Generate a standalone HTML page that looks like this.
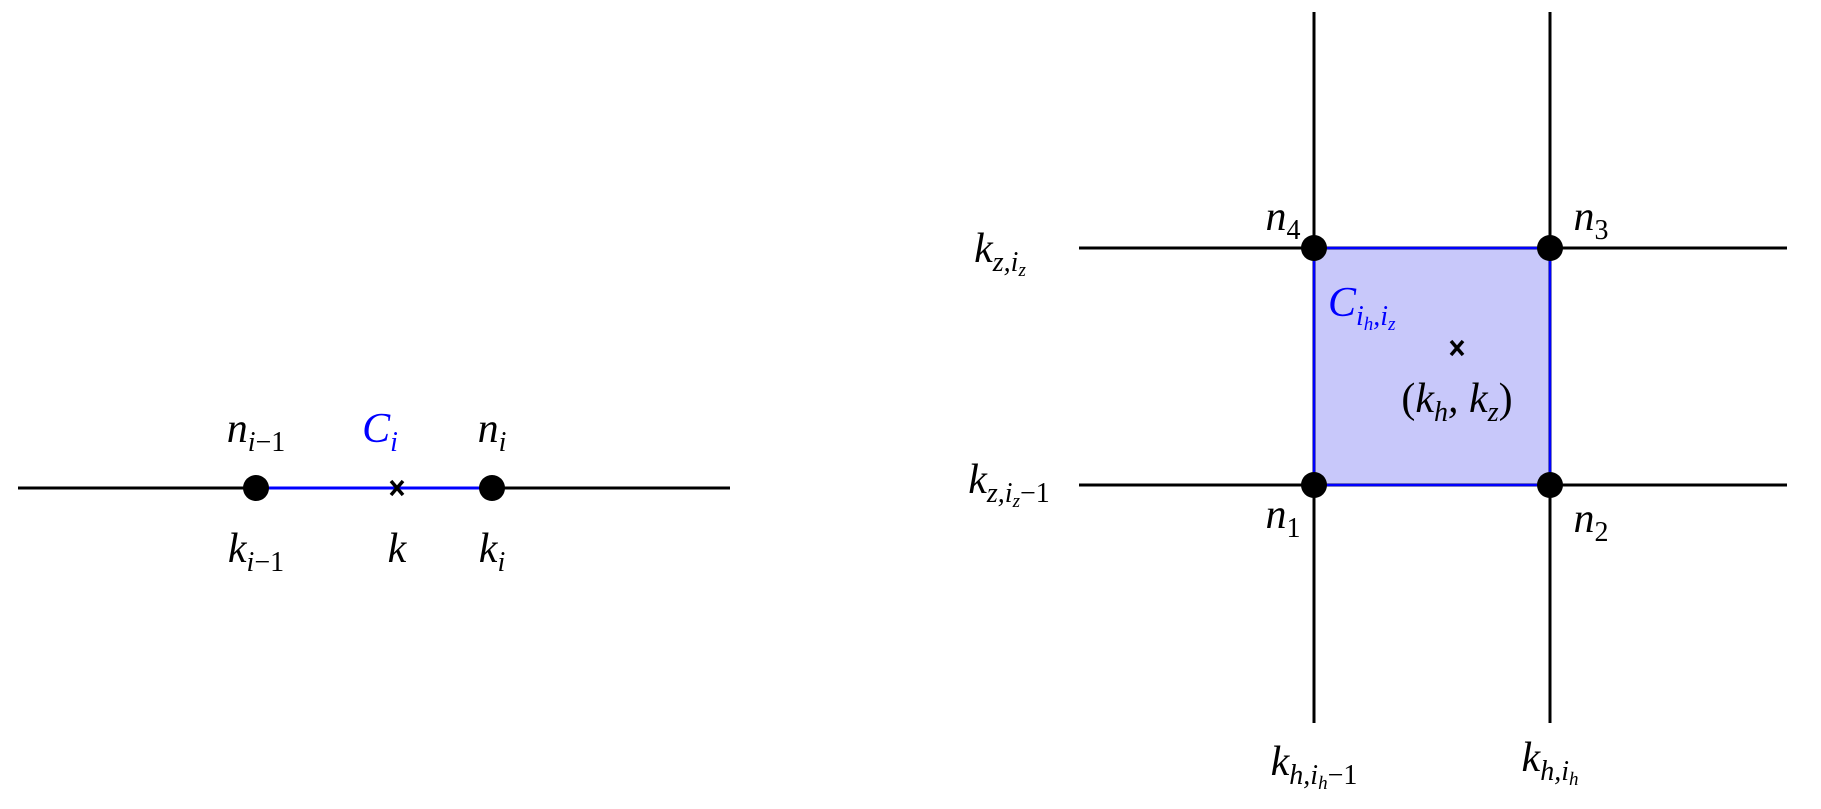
<!DOCTYPE html>
<html><head><meta charset="utf-8"><style>
html,body{margin:0;padding:0;background:#fff;}
svg{display:block;}
text{font-family:"Liberation Serif",serif;font-style:italic;font-size:42px;fill:#000;}
.s{font-size:28px;}
.u{font-style:normal;}
</style></head><body>
<svg width="1821" height="809" viewBox="0 0 1821 809" xmlns="http://www.w3.org/2000/svg">
<!-- Left diagram -->
<line x1="18" y1="488" x2="730" y2="488" stroke="#000" stroke-width="3"/>
<line x1="256" y1="488" x2="492" y2="488" stroke="#0000ff" stroke-width="3"/>
<circle cx="256" cy="488" r="13"/>
<circle cx="492" cy="488" r="13"/>
<path d="M391 481 L403 495 M403 481 L391 495" stroke="#000" stroke-width="3.5"/>
<text x="256" y="442" text-anchor="middle">n<tspan class="s" dy="9">i</tspan><tspan class="s u">−1</tspan></text>
<text x="380" y="442" text-anchor="middle" style="fill:#0000ff">C<tspan class="s" dy="9" style="fill:#0000ff">i</tspan></text>
<text x="492" y="442" text-anchor="middle">n<tspan class="s" dy="9">i</tspan></text>
<text x="256" y="562" text-anchor="middle">k<tspan class="s" dy="9">i</tspan><tspan class="s u">−1</tspan></text>
<text x="397" y="562" text-anchor="middle">k</text>
<text x="492" y="562" text-anchor="middle">k<tspan class="s" dy="9">i</tspan></text>
<!-- Right diagram -->
<rect x="1314" y="248" width="236" height="237" fill="#c8c8fa"/>
<line x1="1314" y1="12" x2="1314" y2="723" stroke="#000" stroke-width="3"/>
<line x1="1550" y1="12" x2="1550" y2="723" stroke="#000" stroke-width="3"/>
<line x1="1079" y1="248" x2="1787" y2="248" stroke="#000" stroke-width="3"/>
<line x1="1079" y1="485" x2="1787" y2="485" stroke="#000" stroke-width="3"/>
<rect x="1314" y="248" width="236" height="237" fill="none" stroke="#0000ff" stroke-width="2.5"/>
<circle cx="1314" cy="248" r="13"/>
<circle cx="1550" cy="248" r="13"/>
<circle cx="1314" cy="485" r="13"/>
<circle cx="1550" cy="485" r="13"/>
<path d="M1451 341 L1463 355 M1463 341 L1451 355" stroke="#000" stroke-width="3.5"/>
<text x="1328" y="316" style="fill:#0000ff">C<tspan class="s" dy="9" style="fill:#0000ff">i</tspan><tspan class="s" dy="5" style="fill:#0000ff;font-size:19px">h</tspan><tspan class="s" dy="-5" style="fill:#0000ff">,i</tspan><tspan class="s" dy="5" style="fill:#0000ff;font-size:19px">z</tspan></text>
<text x="1457" y="412" text-anchor="middle"><tspan class="u">(</tspan>k<tspan class="s" dy="9">h</tspan><tspan dy="-9">, k</tspan><tspan class="s" dy="9">z</tspan><tspan class="u" dy="-9">)</tspan></text>
<text x="1000" y="262" text-anchor="middle">k<tspan class="s" dy="9">z,i</tspan><tspan class="s" dy="5" style="font-size:19px">z</tspan></text>
<text x="1009" y="493" text-anchor="middle">k<tspan class="s" dy="9">z,i</tspan><tspan class="s" dy="5" style="font-size:19px">z</tspan><tspan class="s u" dy="-5">−1</tspan></text>
<text x="1283" y="230" text-anchor="middle">n<tspan class="s u" dy="9">4</tspan></text>
<text x="1591" y="230" text-anchor="middle">n<tspan class="s u" dy="9">3</tspan></text>
<text x="1283" y="528" text-anchor="middle">n<tspan class="s u" dy="9">1</tspan></text>
<text x="1591" y="532" text-anchor="middle">n<tspan class="s u" dy="9">2</tspan></text>
<text x="1314" y="775" text-anchor="middle">k<tspan class="s" dy="9">h,i</tspan><tspan class="s" dy="5" style="font-size:19px">h</tspan><tspan class="s u" dy="-5">−1</tspan></text>
<text x="1550" y="771" text-anchor="middle">k<tspan class="s" dy="9">h,i</tspan><tspan class="s" dy="5" style="font-size:19px">h</tspan></text>
</svg>
</body></html>
